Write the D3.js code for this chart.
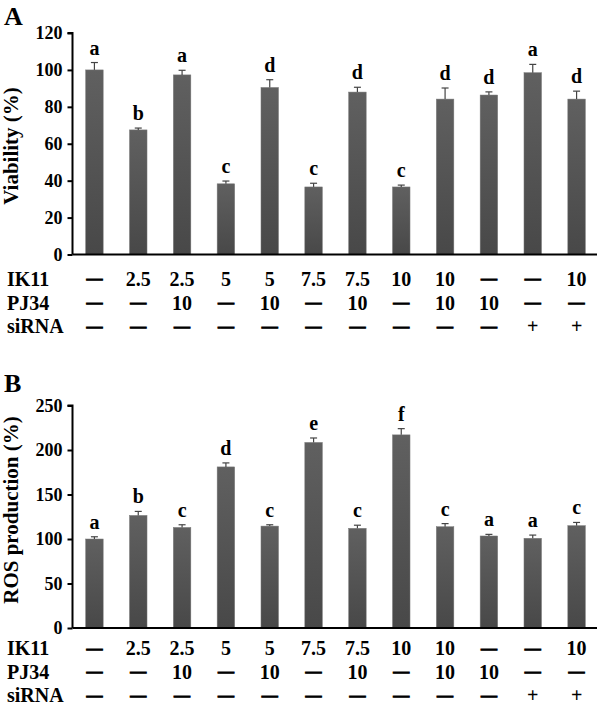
<!DOCTYPE html>
<html><head><meta charset="utf-8">
<script src="https://cdn.jsdelivr.net/npm/d3@7/dist/d3.min.js"></script>
<style>
html,body{margin:0;padding:0;background:#fff;}
svg text{font-family:"Liberation Serif","Times New Roman",serif;font-weight:bold;fill:#000;}
</style></head><body>
<svg id="chart" width="600" height="708"></svg>
<script>
const groups = ["g1","g2","g3","g4","g5","g6","g7","g8","g9","g10","g11","g12"];
const ik11 = ["—","2.5","2.5","5","5","7.5","7.5","10","10","—","—","10"];
const pj34 = ["—","—","10","—","10","—","10","—","10","10","—","—"];
const sirna = ["—","—","—","—","—","—","—","—","—","—","+","+"];

const viability = [100, 67.5, 97.3, 38.3, 90.5, 36.6, 88, 36.6, 84.2, 86.4, 98.5, 84.2];
const viabilityErr = [4, 1, 2.5, 1.5, 4.2, 2, 2.6, 1, 6, 1.7, 4.5, 4.3];
const viabilityLetters = ["a","b","a","c","d","c","d","c","d","d","a","d"];
const viabilityTicks = [0,20,40,60,80,100,120];

const ros = [100, 126.5, 113, 181, 114.5, 208.5, 112, 217, 113.8, 103.4, 100.8, 115];
const rosErr = [2.5, 4.5, 3, 4.5, 1.5, 5, 3.5, 7, 3.5, 1.8, 3.6, 3.6];
const rosLetters = ["a","b","c","d","c","e","c","f","c","a","a","c"];
const rosTicks = [0,50,100,150,200,250];

const svg = d3.select("#chart");
const defs = svg.append("defs");
const grad = defs.append("linearGradient").attr("id","barGrad")
  .attr("x1","0").attr("y1","0").attr("x2","0").attr("y2","1");
grad.append("stop").attr("offset","0%").attr("stop-color","#606060");
grad.append("stop").attr("offset","100%").attr("stop-color","#484848");

const x = d3.scaleBand().domain(groups).range([72.5, 598.5]).paddingInner(0.6).paddingOuter(0.3);

function panel(opts){
  const {values, errs, letters, ticks, y0, y1, ymax, title, label, labelY, titleY} = opts;
  const y = d3.scaleLinear().domain([0, ymax]).range([y0, y1]);
  const g = svg.append("g");

  g.selectAll("rect.bar").data(values).join("rect")
    .attr("class","bar")
    .attr("x",(d,i)=>x(groups[i]))
    .attr("width",x.bandwidth())
    .attr("y",d=>y(d))
    .attr("height",d=>y(0)-y(d))
    .attr("fill","url(#barGrad)")
    .attr("stroke","#7a7a7a").attr("stroke-width",0.5);

  const eb = g.selectAll("g.err").data(values).join("g").attr("class","err");
  eb.append("line")
    .attr("x1",(d,i)=>x(groups[i])+x.bandwidth()/2)
    .attr("x2",(d,i)=>x(groups[i])+x.bandwidth()/2)
    .attr("y1",d=>y(d))
    .attr("y2",(d,i)=>y(d+errs[i]))
    .attr("stroke","#444").attr("stroke-width",1.2);
  eb.append("line")
    .attr("x1",(d,i)=>x(groups[i])+x.bandwidth()/2-3.5)
    .attr("x2",(d,i)=>x(groups[i])+x.bandwidth()/2+3.5)
    .attr("y1",(d,i)=>y(d+errs[i]))
    .attr("y2",(d,i)=>y(d+errs[i]))
    .attr("stroke","#444").attr("stroke-width",1.2);

  g.selectAll("text.sig").data(values).join("text")
    .attr("class","sig")
    .attr("x",(d,i)=>x(groups[i])+x.bandwidth()/2)
    .attr("y",(d,i)=>y(d+errs[i])-8)
    .attr("text-anchor","middle")
    .style("font-size","20px")
    .text((d,i)=>letters[i]);

  const axis = d3.axisLeft(y).tickValues(ticks).tickSize(5).tickPadding(5).tickFormat(d3.format("d"));
  const ax = g.append("g").attr("transform","translate(72.5,0)").call(axis);
  ax.select(".domain").attr("stroke","#000").attr("stroke-width",2)
    .attr("d",`M-5,${y(ymax)}H0V${y(0)}`);
  ax.selectAll(".tick line").attr("stroke","#000").attr("stroke-width",2);
  ax.selectAll(".tick text").style("font-size","18px")
    .style("font-family","'Liberation Serif',serif").style("font-weight","bold").attr("fill","#000");

  g.append("line").attr("x1",72.5).attr("x2",597).attr("y1",y(0)).attr("y2",y(0))
    .attr("stroke","#000").attr("stroke-width",2);

  g.append("text")
    .attr("transform",`translate(${titleY.x},${titleY.y}) rotate(-90)`)
    .attr("text-anchor","middle")
    .style("font-size","21px")
    .text(title);

  g.append("text").attr("x",4).attr("y",label.y).style("font-size","26px").text(label.t);

  const rows = [["IK11", ik11],["PJ34", pj34],["siRNA", sirna]];
  rows.forEach(([name, vals], r)=>{
    const by = y(0) + labelY[r];
    g.append("text").attr("x",7).attr("y",by).style("font-size","20px").text(name);
    g.selectAll(null).data(vals).join("text")
      .attr("x",(d,i)=>x(groups[i])+x.bandwidth()/2)
      .attr("y",d=> d==="—" ? by-1.5 : by)
      .attr("text-anchor","middle")
      .style("font-size",d=> d==="—" ? "16px" : "20px")
      .attr("stroke",d=> d==="—" ? "#000" : null)
      .attr("stroke-width",d=> d==="—" ? 0.9 : null)
      .text(d=>d);
  });
}

panel({values:viability, errs:viabilityErr, letters:viabilityLetters, ticks:viabilityTicks,
  y0:254.5, y1:33, ymax:120, title:"Viability (%)", label:{t:"A",y:25},
  labelY:[31,55,78.5], titleY:{x:18,y:146}});
panel({values:ros, errs:rosErr, letters:rosLetters, ticks:rosTicks,
  y0:628, y1:405.5, ymax:250, title:"ROS production (%)", label:{t:"B",y:392},
  labelY:[27,50.5,74], titleY:{x:18,y:510}});
</script>
</body></html>
